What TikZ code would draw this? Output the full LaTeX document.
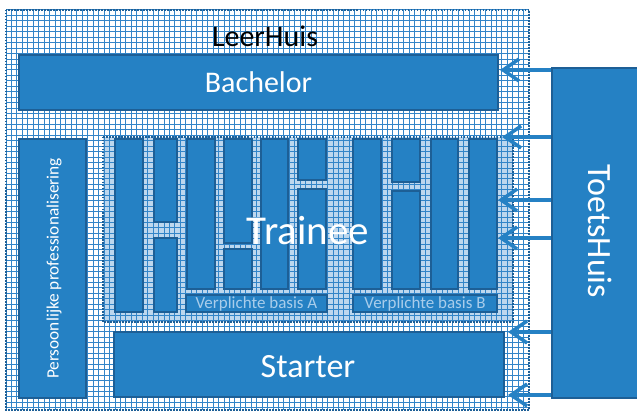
\documentclass[tikz,border=0pt]{standalone}
\usepackage{fontspec}
\setmainfont{Carlito}
\usetikzlibrary{arrows.meta}
\definecolor{blokblauw}{HTML}{2581C4}
\definecolor{randblauw}{HTML}{1D5F96}
\definecolor{rasterblauw}{HTML}{3385C8}
\definecolor{lichtblauw}{HTML}{BDD7EE}
\definecolor{tekstlicht}{HTML}{A9CDEB}
\tikzset{
  blok/.style={draw=randblauw, fill=blokblauw, line width=1.5pt, inner sep=0pt, text=white},
  kolom/.style={draw=randblauw, fill=blokblauw, line width=1.5pt},
  raster/.style={rasterblauw, line width=1pt},
  rand/.style={draw=randblauw, line width=1.5pt, dash pattern=on 1.5pt off 1.5pt},
  pijl/.style={blokblauw, line width=3.5pt, -{Straight Barb[length=16pt,width=22pt]}}
}
\begin{document}
\begin{tikzpicture}[x=1pt,y=-1pt]
\useasboundingbox (0,0) rectangle (637,414);
\fill[white] (0,0) rectangle (637,414);
\fill[lichtblauw] (103,137) rectangle (513,322);
\begin{scope}
\clip (6,10) rectangle (529,410);
\foreach \i in {0,...,96} \draw[raster] ({6+5.45*\i},10) -- ++(0,400);
\foreach \i in {0,...,73} \draw[raster] (6,{10+5.45*\i}) -- ++(523,0);
\end{scope}
\draw[rand] (103,137) rectangle (513,322);
\draw[rand] (6,10) rectangle (529,410);
\node (leerhuis) at (265,36) {\fontsize{30}{30}\selectfont LeerHuis};
\node[blok, minimum width=479pt, minimum height=55pt] (bachelor) at (258.5,82.5) {\fontsize{30}{30}\selectfont Bachelor};
\node[blok, minimum width=67pt, minimum height=259pt] (persoon) at (52.5,268.5) {};
\node[rotate=90, text=white] (persoontekst) at (54,268.5) {\fontsize{17.3}{17.3}\selectfont Persoonlijke professionalisering};
\foreach \xa/\ya/\xb/\yb in {115/139/143/312, 154/139/177/222, 154/238/177/312, 187/139/215/289,
  224/139/252/243, 224/249/252/289, 261/139/288/289, 298/139/326/180, 298/189/326/289,
  353/139/381/289, 392/139/420/182, 392/191/420/289, 431/139/458/289, 469/139/497/289}
  \draw[kolom] (\xa,\ya) rectangle (\xb,\yb);
\node[blok, text=tekstlicht, minimum width=141pt, minimum height=17pt] (basisa) at (256.5,303.5) {\fontsize{17}{17}\selectfont Verplichte basis A};
\node[blok, text=tekstlicht, minimum width=144pt, minimum height=17pt] (basisb) at (425,303.5) {\fontsize{17}{17}\selectfont Verplichte basis B};
\node[text=white] (trainee) at (308,231) {\fontsize{41}{41}\selectfont Trainee};
\node[blok, minimum width=390pt, minimum height=65pt] (starter) at (309,364.5) {};
\node[text=white] (startertekst) at (308,367) {\fontsize{34}{34}\selectfont Starter};
\node[blok, minimum width=90pt, minimum height=330pt] (toets) at (597,233) {};
\node[rotate=-90, text=white] (toetstekst) at (600,231.5) {\fontsize{34}{34}\selectfont ToetsHuis};
\coordinate (t1) at (500,70); \coordinate (t2) at (502,137); \coordinate (t3) at (498,200);
\coordinate (t4) at (498,238); \coordinate (t5) at (508,332); \coordinate (t6) at (508,395);
\foreach \p in {1,...,6} \draw[pijl] (toets.west |- t\p) -- (t\p);
\end{tikzpicture}
\end{document}
